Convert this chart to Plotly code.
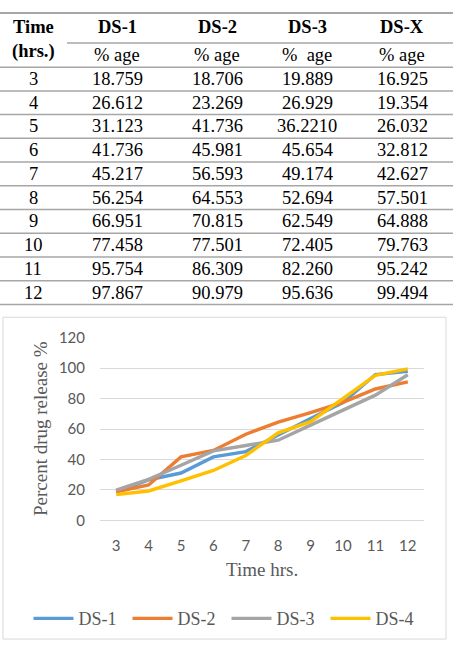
import plotly.graph_objects as go

# ---------------- data ----------------
times = ["3", "4", "5", "6", "7", "8", "9", "10", "11", "12"]
ds1 = ["18.759", "26.612", "31.123", "41.736", "45.217", "56.254", "66.951", "77.458", "95.754", "97.867"]
ds2 = ["18.706", "23.269", "41.736", "45.981", "56.593", "64.553", "70.815", "77.501", "86.309", "90.979"]
ds3 = ["19.889", "26.929", "36.2210", "45.654", "49.174", "52.694", "62.549", "72.405", "82.260", "95.636"]
dsx = ["16.925", "19.354", "26.032", "32.812", "42.627", "57.501", "64.888", "79.763", "95.242", "99.494"]

table_headers = ["DS-1", "DS-2", "DS-3", "DS-X"]
sub_headers = ["% age", "% age", "%\u00a0 age", "% age"]
legend_names = ["DS-1", "DS-2", "DS-3", "DS-4"]
colors = ["#5B9BD5", "#ED7D31", "#A5A5A5", "#FFC000"]
y_ticks = [0, 20, 40, 60, 80, 100, 120]

W, H = 453, 649


def px(x):
    return x / W


def py(y):
    return 1 - y / H


fig = go.Figure()

series = [ds1, ds2, ds3, dsx]
for name, vals, col in zip(legend_names, series, colors):
    fig.add_trace(go.Scatter(
        x=times, y=[float(v) for v in vals], name=name, mode="lines",
        line=dict(color=col, width=3.4),
    ))

serif = "Liberation Serif"
annotations = []
shapes = []

# ------------- table -------------
col_x = [33, 117, 217, 307, 402]
header_y1, header_y2 = 17, 46
row0, row_step = 71, 24.4

annotations.append(dict(x=px(col_x[0]), y=py(header_y1), text="<b>Time</b>"))
annotations.append(dict(x=px(col_x[0]), y=py(header_y2 - 3), text="<b>(hrs.)</b>"))
for i, h in enumerate(table_headers):
    annotations.append(dict(x=px(col_x[i + 1]), y=py(header_y1), text="<b>" + h + "</b>"))
    annotations.append(dict(x=px(col_x[i + 1]), y=py(header_y2), text=sub_headers[i]))

for r, t in enumerate(times):
    yc = row0 + r * row_step
    annotations.append(dict(x=px(col_x[0]), y=py(yc), text=t))
    for c, s in enumerate(series):
        annotations.append(dict(x=px(col_x[c + 1]), y=py(yc), text=s[r]))

for a in annotations:
    a.update(xref="paper", yref="paper", showarrow=False, xanchor="center",
             yanchor="middle", font=dict(family=serif, size=18.5, color="#000000"))

line_col = "#A6A6A6"
shapes.append(dict(type="line", xref="paper", yref="paper", x0=0, x1=1,
                   y0=py(3), y1=py(3), line=dict(color=line_col, width=2)))
shapes.append(dict(type="line", xref="paper", yref="paper", x0=px(67), x1=1,
                   y0=py(34), y1=py(34), line=dict(color=line_col, width=1.5)))
shapes.append(dict(type="line", xref="paper", yref="paper", x0=0, x1=1,
                   y0=py(59), y1=py(59), line=dict(color=line_col, width=1.5)))
for r in range(len(times)):
    yl = row0 + r * row_step + row_step / 2
    shapes.append(dict(type="line", xref="paper", yref="paper", x0=0, x1=1,
                       y0=py(yl), y1=py(yl), line=dict(color=line_col, width=1.5)))

# ------------- chart frame -------------
shapes.append(dict(type="rect", xref="paper", yref="paper", x0=px(3), x1=px(446),
                   y0=py(647), y1=py(316), line=dict(color="#D9D9D9", width=1),
                   layer="below"))

# axis titles
annotations.append(dict(x=px(262), y=py(575), xref="paper", yref="paper", showarrow=False,
                        text="Time hrs.", xanchor="center", yanchor="middle",
                        font=dict(family=serif, size=19, color="#595959")))
annotations.append(dict(x=px(40), y=py(431), xref="paper", yref="paper", showarrow=False,
                        text="Percent drug release %", textangle=-90,
                        xanchor="center", yanchor="middle",
                        font=dict(family=serif, size=19, color="#595959")))

tick_font = dict(family="Lato", size=15, color="#595959")

fig.update_layout(
    width=W, height=H, autosize=False,
    margin=dict(l=0, r=0, t=0, b=0),
    paper_bgcolor="white", plot_bgcolor="white",
    showlegend=True,
    legend=dict(orientation="h", x=0.5, xanchor="center", y=py(626), yanchor="middle",
                font=dict(family=serif, size=18, color="#595959"),
                entrywidth=44, entrywidthmode="pixels", itemwidth=40,
                bgcolor="rgba(0,0,0,0)"),
    xaxis=dict(domain=[px(100), px(424)], type="category", categoryorder="array",
               categoryarray=times, range=[-0.5, len(times) - 0.5],
               showgrid=False, showline=False, zeroline=False, ticks="",
               tickfont=tick_font, ticklabelstandoff=15, anchor="y"),
    yaxis=dict(domain=[py(525), py(337)], range=[0, 120], tickvals=y_ticks,
               showgrid=True, gridcolor="#D9D9D9", gridwidth=1, zeroline=True,
               zerolinecolor="#D9D9D9", zerolinewidth=1, showline=False, ticks="",
               tickfont=tick_font, ticklabelstandoff=14, anchor="x"),
    annotations=annotations,
    shapes=shapes,
)

fig.write_html("out.html")
